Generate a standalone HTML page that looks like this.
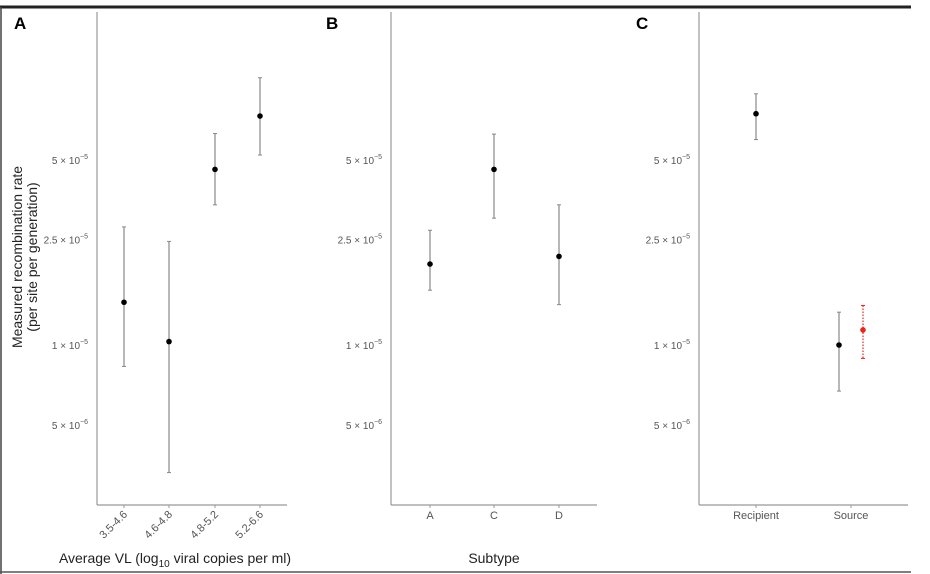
<!DOCTYPE html>
<html><head><meta charset="utf-8"><style>
body{margin:0;background:#fff;}
svg{display:block;font-family:"Liberation Sans",sans-serif;}
</style></head><body>
<svg id="fig" width="930" height="574" viewBox="0 0 930 574">
<line x1="0" y1="7" x2="911" y2="7" stroke="#222" stroke-width="3"/>
<line x1="1" y1="7" x2="1" y2="574" stroke="#444" stroke-width="1.5"/>
<line x1="0" y1="572" x2="911" y2="572" stroke="#555" stroke-width="1.5"/>
<text x="14" y="29" font-size="17" font-weight="bold">A</text>
<text x="326" y="29" font-size="17" font-weight="bold">B</text>
<text x="636" y="29" font-size="17" font-weight="bold">C</text>
<g transform="translate(26,257) rotate(-90)">
<text x="0" y="-4" font-size="14" text-anchor="middle" fill="#222">Measured recombination rate</text>
<text x="0" y="11" font-size="14" text-anchor="middle" fill="#222">(per site per generation)</text>
</g>
<text x="175" y="563" font-size="14" text-anchor="middle" fill="#222">Average VL (log<tspan font-size="10" dy="4">10</tspan><tspan dy="-4"> viral copies per ml)</tspan></text>
<text x="494" y="563" font-size="14" text-anchor="middle" fill="#222">Subtype</text>
</svg>
<script>
const catsA=["3.5-4.6","4.6-4.8","4.8-5.2","5.2-6.6"];
const valsA=[1.45e-5,1.03e-5,4.6e-5,7.31e-5];
const hiA=[2.79e-5,2.46e-5,6.28e-5,10.2e-5];
const loA=[0.83e-5,0.33e-5,3.38e-5,5.21e-5];
const catsB=["A","C","D"];
const valsB=[2.02e-5,4.6e-5,2.16e-5];
const hiB=[2.71e-5,6.25e-5,3.38e-5];
const loB=[1.61e-5,3.01e-5,1.42e-5];
const catsC=["Recipient","Source"];
const valsC=[7.46e-5,1.0e-5];
const hiC=[8.87e-5,1.33e-5];
const loC=[5.96e-5,0.67e-5];
const valsCRed=[1.14e-5];
const hiCRed=[1.41e-5];
const loCRed=[0.89e-5];
const tickVals=[5e-6,1e-5,2.5e-5,5e-5];
const tickMant=["5","1","2.5","5"];
const tickExp=["−6","−5","−5","−5"];

const NS="http://www.w3.org/2000/svg";
const svg=document.getElementById('fig');
function y(v){return 345-265*Math.log10(v/1e-5);}
function mk(tag,attrs,parent){const e=document.createElementNS(NS,tag);for(const k in attrs)e.setAttribute(k,attrs[k]);(parent||svg).appendChild(e);return e;}

function panel(id,ax,axEnd,xs,cats,vals,hi,lo,rotate){
  const g=mk('g',{});
  
  
  const yl=mk('line',{x1:ax,y1:12,x2:ax,y2:505,stroke:'#999','stroke-width':1.2},g);
  
  
  const xl=mk('line',{x1:ax,y1:505,x2:axEnd,y2:505,stroke:'#999','stroke-width':1.2},g);
  
  
  tickVals.forEach((t,i)=>{
    const tx=mk('text',{x:ax-9,y:y(t)+4,'font-size':10,'text-anchor':'end',fill:'#555'},g);
    
    
    tx.innerHTML=tickMant[i]+' × 10<tspan font-size="7" dy="-5">'+tickExp[i]+'</tspan>';
  });
  cats.forEach((c,i)=>{
    const x=xs[i];
    mk('line',{x1:x,y1:505,x2:x,y2:508,stroke:'#999'},g);
    let t;
    if(rotate){t=mk('text',{x:0,y:0,'font-size':11,'text-anchor':'end',fill:'#555',transform:`translate(${x+4},${515}) rotate(-45)`},g);}
    else{t=mk('text',{x:x,y:519,'font-size':11,'text-anchor':'middle',fill:'#555'},g);}
    t.textContent=c;
    
    
  });
}
function point(px,v,h,l,color,dash){
  const g=mk('g',{});
  
  
  const st=color==='#000'?'#888':color;
  mk('line',{x1:px,y1:y(h),x2:px,y2:y(l),stroke:st,'stroke-width':1.2,'stroke-dasharray':dash||'none'},g);
  mk('line',{x1:px-2,y1:y(h),x2:px+2,y2:y(h),stroke:st},g);
  mk('line',{x1:px-2,y1:y(l),x2:px+2,y2:y(l),stroke:st},g);
  mk('circle',{cx:px,cy:y(v),r:2.8,fill:color},g);
}
const xsA=[124,169,215,260], xsB=[430,494,559], xsC=[756,851];
panel('a',97,287,xsA,catsA,valsA,hiA,loA,true);
panel('b',391,597,xsB,catsB,valsB,hiB,loB,false);
panel('c',699,908,xsC,catsC,valsC,hiC,loC,false);
valsA.forEach((v,i)=>point(xsA[i],v,hiA[i],loA[i],'#000'));
valsB.forEach((v,i)=>point(xsB[i],v,hiB[i],loB[i],'#000'));
point(756,valsC[0],hiC[0],loC[0],'#000');
point(839,valsC[1],hiC[1],loC[1],'#000');
point(863,valsCRed[0],hiCRed[0],loCRed[0],'#e8261c','1.5,1.5');
</script>
</body></html>
